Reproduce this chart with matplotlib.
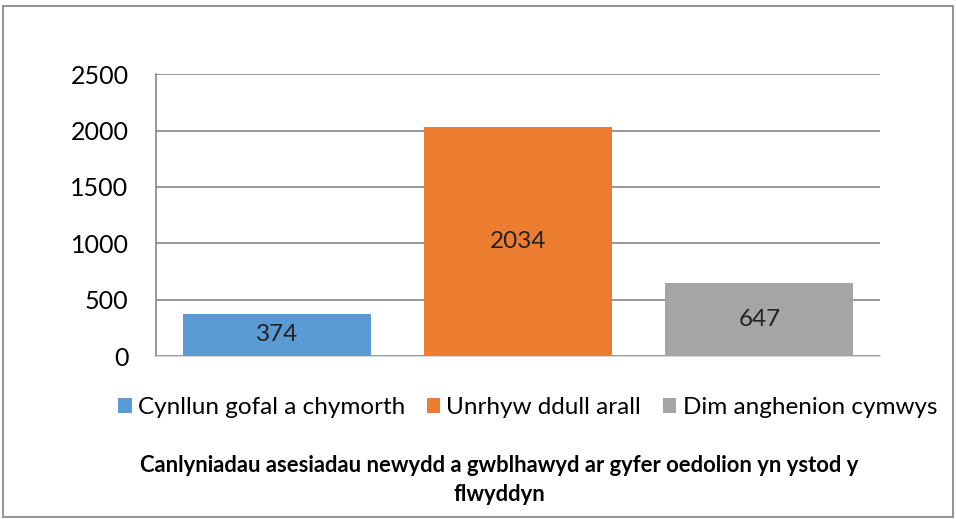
import matplotlib
matplotlib.use("Agg")
import matplotlib.pyplot as plt
from matplotlib.patches import Rectangle, Patch

categories = ["Cynllun gofal a chymorth", "Unrhyw ddull arall", "Dim anghenion cymwys"]
values = [374, 2034, 647]
colors = ["#5B9BD5", "#ED7D31", "#A5A5A5"]
yticks = [0, 500, 1000, 1500, 2000, 2500]
title = "Canlyniadau asesiadau newydd a gwblhawyd ar gyfer oedolion yn ystod y\nflwyddyn"

plt.rcParams['font.family'] = ['Lato', 'DejaVu Sans']

fig = plt.figure(figsize=(9.56, 5.19), dpi=100)
fig.patches.append(Rectangle((0.003, 0.003), 0.994, 0.985, transform=fig.transFigure,
                             fill=False, edgecolor="#808080", linewidth=1.2))
ax = fig.add_axes([0.1635, 0.314, 0.757, 0.543])

x = list(range(len(categories)))
bars = ax.bar(x, values, width=0.78, color=colors, zorder=3)
for xi, v in zip(x, values):
    ax.text(xi, v / 2, str(v), ha="center", va="center", fontsize=17.5, color="#222222", zorder=4)

ax.set_xlim(-0.5, 2.5)
ax.set_ylim(0, 2500)
ax.set_yticks(yticks)
ax.set_yticklabels([str(t) for t in yticks], fontsize=18)
ax.set_xticks([])
ax.grid(axis="y", color="#868686", linewidth=1.2, zorder=0)
for s in ["top", "right"]:
    ax.spines[s].set_visible(False)
ax.spines["left"].set_color("#868686")
ax.spines["left"].set_linewidth(1.2)
ax.spines["bottom"].set_color("#D9D9D9")
ax.tick_params(axis="y", length=0, pad=20)

handles = [Patch(facecolor=c, edgecolor="none") for c in colors]
fig.legend(handles, categories, loc="center", bbox_to_anchor=(0.552, 0.215), ncol=3,
           frameon=False, fontsize=17.5, handlelength=0.55, handleheight=0.55,
           handletextpad=0.25, columnspacing=0.9)

fig.text(0.522, 0.075, title, ha="center", va="center", fontsize=15.8, fontweight="bold",
         linespacing=1.45)

fig.savefig("out.png", dpi=100)
